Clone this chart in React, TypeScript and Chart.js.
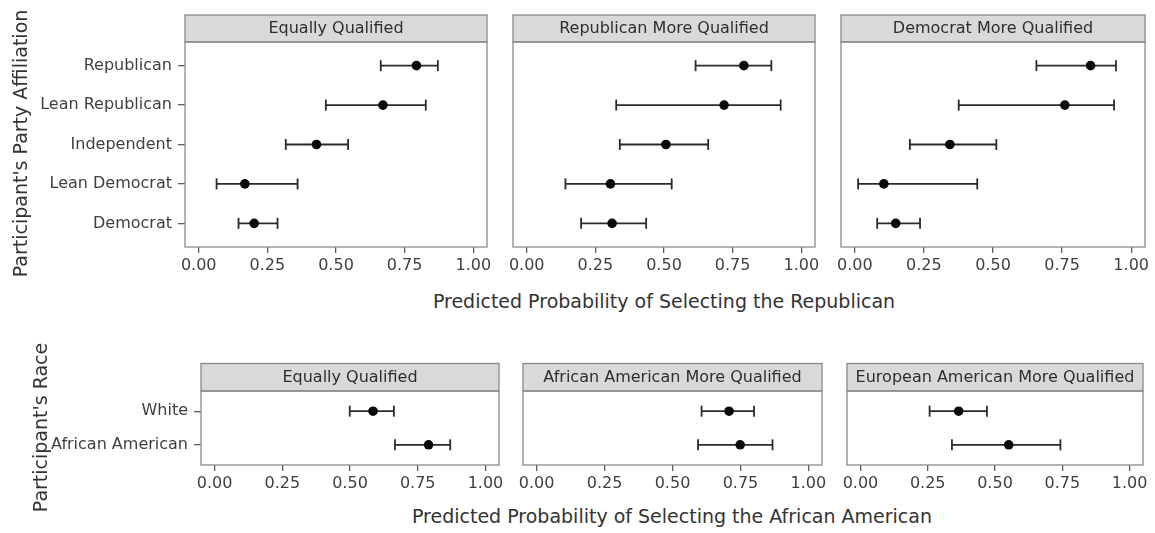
import React, { useEffect, useRef } from "react";
import { Chart, registerables } from "chart.js";

Chart.register(...registerables);

// ---------- data ----------
const partyCats = ["Democrat", "Lean Democrat", "Independent", "Lean Republican", "Republican"];
const raceCats = ["African American", "White"];

const tickVals = [0, 0.25, 0.5, 0.75, 1];
const tickLabels = ["0.00", "0.25", "0.50", "0.75", "1.00"];

// Party panels (order follows partyCats)
const eqPartyLo = [0.145, 0.065, 0.317, 0.463, 0.663];
const eqPartyMid = [0.202, 0.168, 0.429, 0.671, 0.793];
const eqPartyHi = [0.287, 0.36, 0.544, 0.827, 0.871];

const repMoreLo = [0.198, 0.141, 0.339, 0.326, 0.615];
const repMoreMid = [0.311, 0.305, 0.507, 0.719, 0.791];
const repMoreHi = [0.435, 0.528, 0.661, 0.925, 0.891];

const demMoreLo = [0.081, 0.012, 0.199, 0.376, 0.657];
const demMoreMid = [0.148, 0.105, 0.344, 0.76, 0.853];
const demMoreHi = [0.236, 0.443, 0.512, 0.938, 0.945];

// Race panels (order follows raceCats)
const eqRaceLo = [0.666, 0.499];
const eqRaceMid = [0.79, 0.585];
const eqRaceHi = [0.87, 0.662];

const aaMoreLo = [0.594, 0.607];
const aaMoreMid = [0.749, 0.708];
const aaMoreHi = [0.868, 0.8];

const eaMoreLo = [0.34, 0.257];
const eaMoreMid = [0.551, 0.365];
const eaMoreHi = [0.743, 0.47];

const topTitle = "Predicted Probability of Selecting the Republican";
const bottomTitle = "Predicted Probability of Selecting the African American";
const topYTitle = "Participant's Party Affiliation";
const bottomYTitle = "Participant's Race";

// ---------- layout ----------
const FONT = "'DejaVu Sans', 'Liberation Sans', sans-serif";
const TEXT = "#3f3f3f";
const FRAME = "#8a8a8a";

type Panel = {
  title: string;
  cats: string[];
  lo: number[];
  mid: number[];
  hi: number[];
  left: number;
  top: number;
  width: number;
  height: number;
  yAxisWidth: number; // 0 = no y axis
  padLeft: number;
  padRight: number;
  padTop: number;
  areaBottom: number; // chart area bottom inside canvas
  stripH: number;
};

const panels: Panel[] = [
  { title: "Equally Qualified", cats: partyCats, lo: eqPartyLo, mid: eqPartyMid, hi: eqPartyHi,
    left: 0, top: 0, width: 507, height: 290, yAxisWidth: 185, padLeft: 0, padRight: 20, padTop: 42, areaBottom: 247, stripH: 27 },
  { title: "Republican More Qualified", cats: partyCats, lo: repMoreLo, mid: repMoreMid, hi: repMoreHi,
    left: 493, top: 0, width: 342, height: 290, yAxisWidth: 0, padLeft: 20, padRight: 20, padTop: 42, areaBottom: 247, stripH: 27 },
  { title: "Democrat More Qualified", cats: partyCats, lo: demMoreLo, mid: demMoreMid, hi: demMoreHi,
    left: 821, top: 0, width: 334, height: 290, yAxisWidth: 0, padLeft: 20, padRight: 10, padTop: 42, areaBottom: 247, stripH: 27 },
  { title: "Equally Qualified", cats: raceCats, lo: eqRaceLo, mid: eqRaceMid, hi: eqRaceHi,
    left: 0, top: 340, width: 519, height: 160, yAxisWidth: 201, padLeft: 0, padRight: 20, padTop: 51, areaBottom: 125, stripH: 27.5 },
  { title: "African American More Qualified", cats: raceCats, lo: aaMoreLo, mid: aaMoreMid, hi: aaMoreHi,
    left: 503, top: 340, width: 339, height: 160, yAxisWidth: 0, padLeft: 20, padRight: 20, padTop: 51, areaBottom: 125, stripH: 27.5 },
  { title: "European American More Qualified", cats: raceCats, lo: eaMoreLo, mid: eaMoreMid, hi: eaMoreHi,
    left: 827, top: 340, width: 328, height: 160, yAxisWidth: 0, padLeft: 20, padRight: 12, padTop: 51, areaBottom: 125, stripH: 27.5 },
];

const framePlugin = {
  id: "panelFrame",
  afterDraw(chart: any, _args: any, opts: any) {
    const { ctx, chartArea } = chart;
    const { left, top, right, bottom } = chartArea;
    const sh = opts.stripH || 27;
    ctx.save();
    // strip
    ctx.fillStyle = "#d9d9d9";
    ctx.fillRect(left, top - sh, right - left, sh);
    ctx.strokeStyle = FRAME;
    ctx.lineWidth = 1.3;
    ctx.strokeRect(left, top - sh, right - left, sh);
    ctx.strokeRect(left, top, right - left, bottom - top);
    ctx.fillStyle = "#2e2e2e";
    ctx.font = `16px ${FONT}`;
    ctx.textAlign = "center";
    ctx.textBaseline = "middle";
    ctx.fillText(opts.title || "", (left + right) / 2, top - sh / 2 + 0.5);
    ctx.restore();
  },
};

function buildConfig(p: Panel): any {
  const n = p.cats.length;
  const datasets: any[] = [
    {
      data: p.mid.map((m, i) => ({ x: m, y: i + 1 })),
      pointRadius: 4.8,
      pointBackgroundColor: "#0a0a0a",
      pointBorderWidth: 0,
      showLine: false,
      order: 0,
    },
  ];
  p.cats.forEach((_c, i) => {
    datasets.push({
      data: [
        { x: p.lo[i], y: i + 1 },
        { x: p.hi[i], y: i + 1 },
      ],
      showLine: true,
      borderColor: "#2b2b2b",
      borderWidth: 1.8,
      pointStyle: "line",
      rotation: 90,
      pointRadius: 5.5,
      pointBorderColor: "#2b2b2b",
      pointBorderWidth: 1.8,
      order: 1,
    });
  });
  const xHeight = p.height - p.areaBottom;
  return {
    type: "scatter",
    data: { datasets },
    plugins: [framePlugin],
    options: {
      animation: false,
      responsive: false,
      maintainAspectRatio: false,
      devicePixelRatio: 1,
      events: [],
      layout: { padding: { left: p.padLeft, right: p.padRight, top: p.padTop, bottom: 0 } },
      plugins: {
        legend: { display: false },
        tooltip: { enabled: false },
        panelFrame: { title: p.title, stripH: p.stripH },
      },
      scales: {
        x: {
          type: "linear",
          min: -0.05,
          max: 1.05,
          border: { display: false },
          grid: { drawOnChartArea: false, drawTicks: true, tickLength: 6, tickColor: "#5e5e5e", lineWidth: 1.3 },
          afterBuildTicks: (scale: any) => {
            scale.ticks = tickVals.map((v) => ({ value: v }));
          },
          afterFit: (scale: any) => {
            scale.height = xHeight;
          },
          ticks: {
            autoSkip: false,
            maxRotation: 0,
            padding: 3,
            color: TEXT,
            font: { size: 16, family: FONT },
            callback: (v: number) => tickLabels[tickVals.indexOf(v)] ?? "",
          },
        },
        y: {
          type: "linear",
          min: 0.4,
          max: n + 0.6,
          display: p.yAxisWidth > 0,
          border: { display: false },
          grid: { drawOnChartArea: false, drawTicks: true, tickLength: 7, tickColor: "#5e5e5e", lineWidth: 1.3 },
          afterBuildTicks: (scale: any) => {
            scale.ticks = p.cats.map((_c, i) => ({ value: i + 1 }));
          },
          afterFit: (scale: any) => {
            if (p.yAxisWidth > 0) scale.width = p.yAxisWidth;
          },
          ticks: {
            autoSkip: false,
            padding: 6,
            color: TEXT,
            font: { size: 16, family: FONT },
            callback: (v: number) => p.cats[v - 1] ?? "",
          },
        },
      },
    },
  };
}

function PanelChart({ p }: { p: Panel }) {
  const ref = useRef<HTMLCanvasElement | null>(null);
  useEffect(() => {
    if (!ref.current) return;
    const chart = new Chart(ref.current, buildConfig(p));
    return () => chart.destroy();
  }, [p]);
  return (
    <canvas
      ref={ref}
      width={p.width}
      height={p.height}
      style={{ position: "absolute", left: p.left, top: p.top, width: p.width, height: p.height }}
    />
  );
}

const titleStyle: React.CSSProperties = {
  position: "absolute",
  fontFamily: FONT,
  fontSize: 19,
  lineHeight: "19px",
  color: "#333333",
  whiteSpace: "nowrap",
  textAlign: "center",
};

export default function App() {
  return (
    <div style={{ position: "absolute", left: 0, top: 0, width: 1155, height: 533, background: "#ffffff", overflow: "hidden" }}>
      {panels.map((p, i) => (
        <PanelChart key={i} p={p} />
      ))}
      <div style={{ ...titleStyle, left: 364, width: 600, top: 292 }}>{topTitle}</div>
      <div style={{ ...titleStyle, left: 372, width: 600, top: 507 }}>{bottomTitle}</div>
      <div
        style={{ ...titleStyle, left: 20 - 200, width: 400, top: 143 - 9.5, transform: "rotate(-90deg)", transformOrigin: "center center" }}
      >
        {topYTitle}
      </div>
      <div
        style={{ ...titleStyle, left: 40 - 150, width: 300, top: 427 - 9.5, transform: "rotate(-90deg)", transformOrigin: "center center" }}
      >
        {bottomYTitle}
      </div>
    </div>
  );
}
